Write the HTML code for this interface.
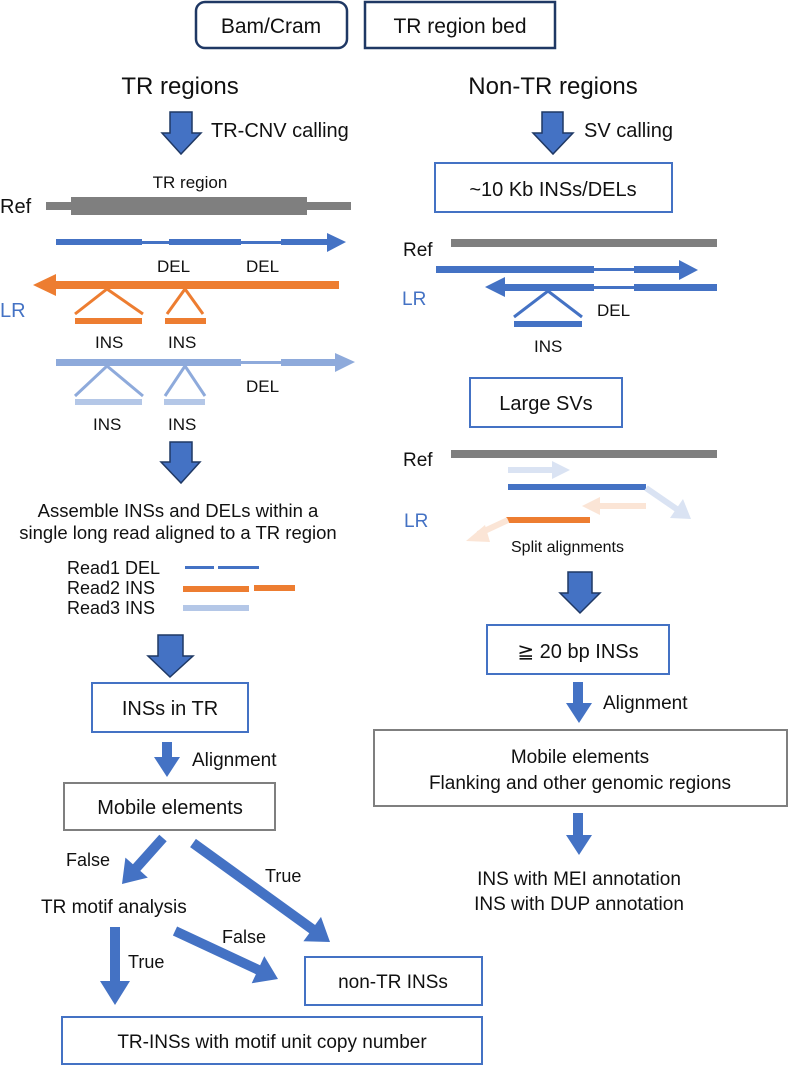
<!DOCTYPE html>
<html><head><meta charset="utf-8"><style>
html,body{margin:0;padding:0;background:#fff;}
svg{display:block;}
text{font-family:"Liberation Sans",Arial,sans-serif;fill:#111;}
</style></head><body>
<svg width="788" height="1066" viewBox="0 0 788 1066" xmlns="http://www.w3.org/2000/svg">
<rect x="196" y="2" width="151" height="46" rx="9" fill="#fff" stroke="#1f3864" stroke-width="2.5"/>
<text x="271" y="33" font-size="21" text-anchor="middle">Bam/Cram</text>
<rect x="365" y="2" width="190" height="46" fill="#fff" stroke="#1f3864" stroke-width="2.5"/>
<text x="460" y="33" font-size="21" text-anchor="middle">TR region bed</text>

<text x="180" y="94" font-size="24" text-anchor="middle">TR regions</text>
<text x="553" y="94" font-size="24" text-anchor="middle">Non-TR regions</text>

<g fill="#4472c4" stroke="#1f3864" stroke-width="1.5">
<path d="M170,112 H192 V133 H201 L181,154 L162,133 H170 Z"/>
<path d="M542,112 H563 V133 H573 L553,154 L533,133 H542 Z"/>
<path d="M170,442 H192 V462 H200 L181,483 L161,462 H170 Z"/>
<path d="M158,635 H183 V656 H193 L170,677 L148,656 H158 Z"/>
<path d="M568,572 H592 V593 H600 L580,613 L560,593 H568 Z"/>
</g>
<text x="211" y="137" font-size="20">TR-CNV calling</text>
<text x="584" y="137" font-size="20">SV calling</text>

<text x="190" y="188" font-size="17" text-anchor="middle">TR region</text>
<text x="0" y="213" font-size="20">Ref</text>
<rect x="46" y="202" width="305" height="8" fill="#7f7f7f"/>
<rect x="71" y="197" width="236" height="18" fill="#7f7f7f"/>
<g fill="#4472c4">
<rect x="56" y="239" width="86" height="6"/><rect x="142" y="241" width="27" height="3"/>
<rect x="169" y="239" width="72" height="6"/><rect x="241" y="241" width="40" height="3"/>
<rect x="281" y="239" width="47" height="6"/><path d="M327,233 L346,242 L327,252 Z"/>
</g>
<text x="157" y="272" font-size="17">DEL</text>
<text x="246" y="272" font-size="17">DEL</text>
<rect x="52" y="281" width="287" height="8" fill="#ed7d31"/>
<path d="M33,285 L56,274 L56,296 Z" fill="#ed7d31"/>
<text x="0" y="317" font-size="20" style="fill:#4472c4">LR</text>
<g stroke="#ed7d31" stroke-width="3" fill="none">
<path d="M75,314 L107,289 L143,314"/><path d="M167,314 L185,289 L203,314"/>
</g>
<rect x="75" y="318" width="67" height="6" fill="#ed7d31"/>
<rect x="165" y="318" width="41" height="6" fill="#ed7d31"/>
<text x="95" y="348" font-size="17">INS</text>
<text x="168" y="348" font-size="17">INS</text>
<g fill="#8eaadb">
<rect x="56" y="359" width="185" height="7"/><rect x="241" y="361" width="40" height="3"/>
<rect x="281" y="359" width="55" height="7"/><path d="M335,353 L355,362 L335,372 Z"/>
</g>
<g stroke="#8eaadb" stroke-width="3" fill="none">
<path d="M75,396 L107,366 L143,396"/><path d="M165,396 L185,366 L205,396"/>
</g>
<rect x="75" y="399" width="67" height="6" fill="#b4c7e7"/>
<rect x="164" y="399" width="41" height="6" fill="#b4c7e7"/>
<text x="246" y="392" font-size="17">DEL</text>
<text x="93" y="430" font-size="17">INS</text>
<text x="168" y="430" font-size="17">INS</text>

<text x="178" y="517" font-size="18.5" text-anchor="middle">Assemble INSs and DELs within a</text>
<text x="178" y="539" font-size="18.5" text-anchor="middle">single long read aligned to a TR region</text>
<text x="67" y="574" font-size="18">Read1 DEL</text>
<text x="67" y="594" font-size="18">Read2 INS</text>
<text x="67" y="614" font-size="18">Read3 INS</text>
<rect x="185" y="566" width="29" height="3" fill="#4472c4"/>
<rect x="218" y="566" width="41" height="3" fill="#4472c4"/>
<rect x="183" y="586" width="66" height="6" fill="#ed7d31"/>
<rect x="254" y="585" width="41" height="6" fill="#ed7d31"/>
<rect x="183" y="605" width="66" height="6" fill="#b4c7e7"/>

<rect x="92" y="683" width="156" height="49" fill="#fff" stroke="#4472c4" stroke-width="2"/>
<text x="170" y="715" font-size="20" text-anchor="middle">INSs in TR</text>
<path d="M162,742 H172 V757 H180 L167,777 L154,757 H162 Z" fill="#4472c4"/>
<text x="192" y="766" font-size="19">Alignment</text>
<rect x="64" y="783" width="211" height="47" fill="#fff" stroke="#7f7f7f" stroke-width="2"/>
<text x="170" y="814" font-size="20" text-anchor="middle">Mobile elements</text>

<g fill="#4472c4">
<polygon points="166.7,841.3 140.3,870.9 147.8,877.6 122,884 125.4,857.6 132.9,864.3 159.3,834.7"/>
<polygon points="190.1,847.1 309.3,933.2 303.4,941.3 330,942 321,916.9 315.1,925 195.9,838.9"/>
<polygon points="110,927 120,927 120,981 130,981 115,1005 100,981 110,981"/>
<polygon points="172.9,935.5 255.9,974.2 251.7,983.3 278,979 264.3,956.1 260.1,965.2 177.1,926.5"/>
</g>
<text x="66" y="866" font-size="18">False</text>
<text x="265" y="882" font-size="18">True</text>
<text x="41" y="913" font-size="19">TR motif analysis</text>
<text x="128" y="968" font-size="18">True</text>
<text x="222" y="943" font-size="18">False</text>

<rect x="305" y="957" width="177" height="48" fill="#fff" stroke="#4472c4" stroke-width="2"/>
<text x="393" y="988" font-size="19" text-anchor="middle">non-TR INSs</text>
<rect x="62" y="1017" width="420" height="47" fill="#fff" stroke="#4472c4" stroke-width="2"/>
<text x="272" y="1048" font-size="19" text-anchor="middle">TR-INSs with motif unit copy number</text>

<rect x="435" y="163" width="237" height="49" fill="#fff" stroke="#4472c4" stroke-width="2"/>
<text x="553" y="196" font-size="20" text-anchor="middle">~10 Kb INSs/DELs</text>
<text x="403" y="256" font-size="19">Ref</text>
<rect x="451" y="239" width="266" height="8" fill="#7f7f7f"/>
<g fill="#4472c4">
<rect x="436" y="266" width="158" height="7"/><rect x="594" y="268" width="40" height="3"/>
<rect x="634" y="266" width="46" height="7"/><path d="M679,260 L698,270 L679,280 Z"/>
<path d="M485,287 L505,277 L505,297 Z"/>
<rect x="503" y="284" width="91" height="7"/><rect x="594" y="286" width="40" height="3"/>
<rect x="634" y="284" width="83" height="7"/>
</g>
<text x="402" y="305" font-size="19" style="fill:#4472c4">LR</text>
<path d="M514,317 L548,291 L582,317" stroke="#4472c4" stroke-width="3" fill="none"/>
<rect x="514" y="321" width="68" height="6" fill="#4472c4"/>
<text x="597" y="316" font-size="17">DEL</text>
<text x="534" y="352" font-size="17">INS</text>

<rect x="470" y="378" width="152" height="49" fill="#fff" stroke="#4472c4" stroke-width="2"/>
<text x="546" y="410" font-size="20" text-anchor="middle">Large SVs</text>
<text x="403" y="466" font-size="19">Ref</text>
<rect x="451" y="450" width="266" height="8" fill="#7f7f7f"/>
<rect x="508" y="467" width="50" height="6" fill="#dae3f3"/>
<path d="M552,461 L570,470 L552,479 Z" fill="#dae3f3"/>
<rect x="508" y="484" width="138" height="6" fill="#4472c4"/>
<line x1="646" y1="488" x2="678" y2="510" stroke="#dae3f3" stroke-width="6"/>
<path d="M670,518 L691,519 L683,499 Z" fill="#dae3f3"/>
<rect x="596" y="503" width="50" height="6" fill="#fbe5d6"/>
<path d="M600,497 L582,506 L600,515 Z" fill="#fbe5d6"/>
<rect x="506" y="517" width="84" height="6" fill="#ed7d31"/>
<line x1="508" y1="520" x2="478" y2="534" stroke="#fbe5d6" stroke-width="6"/>
<path d="M485,525 L466,541 L490,542 Z" fill="#fbe5d6"/>
<text x="404" y="527" font-size="19" style="fill:#4472c4">LR</text>
<text x="511" y="552" font-size="16">Split alignments</text>

<rect x="487" y="625" width="182" height="49" fill="#fff" stroke="#4472c4" stroke-width="2"/>
<text x="578" y="658" font-size="20" text-anchor="middle">≧ 20 bp INSs</text>
<path d="M573,682 H583 V703 H592 L579,723 L566,703 H573 Z" fill="#4472c4"/>
<text x="603" y="709" font-size="19">Alignment</text>
<rect x="374" y="730" width="413" height="76" fill="#fff" stroke="#7f7f7f" stroke-width="2"/>
<text x="580" y="763" font-size="19" text-anchor="middle">Mobile elements</text>
<text x="580" y="789" font-size="19" text-anchor="middle">Flanking and other genomic regions</text>
<path d="M573,813 H583 V835 H592 L579,855 L566,835 H573 Z" fill="#4472c4"/>
<text x="579" y="885" font-size="19" text-anchor="middle">INS with MEI annotation</text>
<text x="579" y="910" font-size="19" text-anchor="middle">INS with DUP annotation</text>
</svg>
</body></html>
